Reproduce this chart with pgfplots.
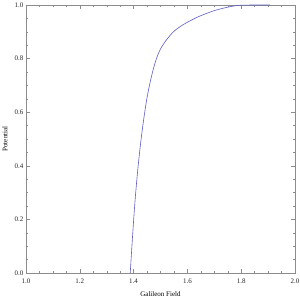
\documentclass[border=0pt]{standalone}
\usepackage{fontspec}
\setmainfont{Liberation Serif}
\usepackage{pgfplots}
\pgfplotsset{compat=1.18}
\definecolor{curve}{rgb}{0.36,0.36,0.76}
\definecolor{frame}{gray}{0.55}
\begin{document}
\fontsize{7pt}{8.5pt}\selectfont
\begin{tikzpicture}
\begin{axis}[
  scale only axis,
  width=269pt, height=268pt,
  xmin=1, xmax=2, ymin=0, ymax=1,
  xtick={1,1.2,...,2.0}, ytick={0,0.2,...,1.0},
  minor tick num=3,
  tick align=inside,
  major tick length=4pt, minor tick length=2pt,
  axis line style={frame, line width=0.5pt},
  every tick/.style={frame, line width=0.5pt},
  every minor tick/.style={frame, line width=0.4pt},
  /pgf/number format/assume math mode=true,
  /pgf/number format/fixed, /pgf/number format/fixed zerofill,
  /pgf/number format/precision=1,
  tick label style={font=\fontsize{7pt}{8.5pt}\selectfont, text=black!85},
  xticklabel style={anchor=center, yshift=-8pt},
  xlabel={Galileon Field}, ylabel={Potential},
  label style={font=\fontsize{7pt}{8.5pt}\selectfont},
  xlabel style={at={(axis description cs:0.5,-0.0784)}, anchor=center},
  ylabel style={at={(axis description cs:-0.078,0.5)}, anchor=center, rotate=0},
  clip=true,
]
\addplot[curve, line width=0.6pt, smooth] coordinates {
(1.3875,0) (1.395,0.12) (1.405,0.265) (1.415,0.38) (1.425,0.475)
(1.435,0.555) (1.4485,0.646) (1.46,0.705) (1.473,0.760) (1.485,0.800)
(1.498,0.832) (1.517,0.863) (1.548,0.900) (1.58,0.924) (1.61,0.941)
(1.64,0.956) (1.672,0.969) (1.70,0.979) (1.733,0.988) (1.765,0.995)
(1.796,0.999) (1.85,1.0) (1.907,1.0)
};
\end{axis}
\pgfresetboundingbox
\useasboundingbox ([xshift=-26pt,yshift=-27pt]current axis.south west) rectangle ([xshift=5pt,yshift=5pt]current axis.north east);
\end{tikzpicture}
\end{document}
